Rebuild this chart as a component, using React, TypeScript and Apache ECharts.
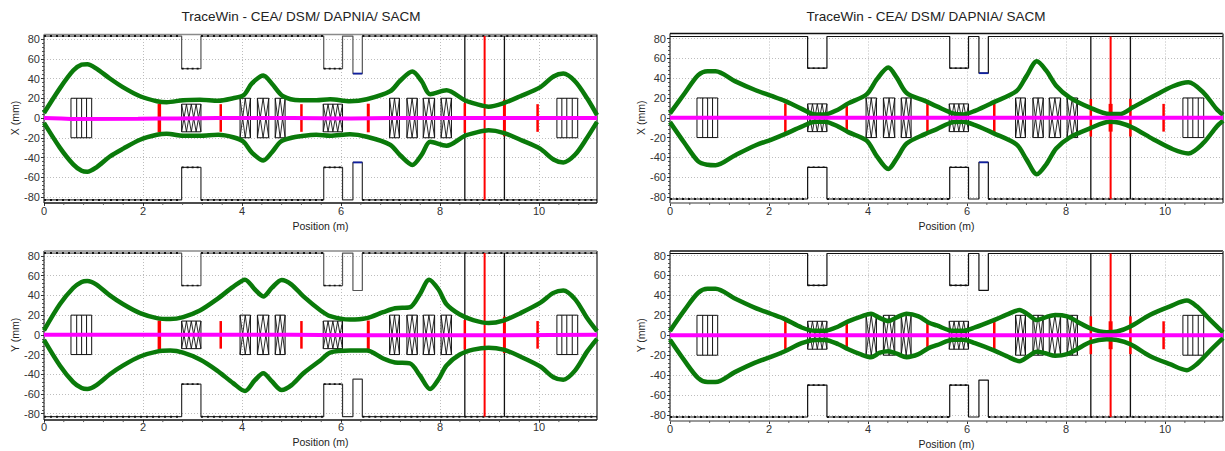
import React, { useEffect, useRef } from "react";
import * as echarts from "echarts";

type P = [number, number];
const XMAX = 11.17;
const titleText = "TraceWin - CEA/ DSM/ DAPNIA/ SACM";
const xAxisName = "Position (m)";

// Beam envelopes (position m, size mm)
const xLeftUpper: P[] = [[0,5],[.32,30],[.59,48],[.76,54],[.875,54.5],[1.06,50],[1.33,40],[1.6,31],[1.94,22],[2.28,17],[2.48,16],[2.81,18],[3.15,18.5],[3.52,17.5],[3.82,20],[4.03,23],[4.2,35],[4.43,43],[4.6,35],[4.83,22],[5.17,18],[5.5,18],[5.78,19],[6.18,17],[6.52,19],[6.99,27],[7.2,38],[7.44,47],[7.63,37],[7.8,24],[8.13,28],[8.5,18],[8.74,14],[8.98,11.5],[9.28,15],[9.62,22],[10.02,31],[10.29,42],[10.49,45],[10.73,37],[10.97,20],[XMAX,3]];
const xLeftLower: P[] = [[0,-5],[.32,-30],[.59,-47],[.76,-53.5],[.875,-54.5],[1.06,-50],[1.33,-39],[1.6,-31],[1.94,-22],[2.28,-17],[2.48,-16],[2.81,-18],[3.15,-18],[3.52,-17],[3.82,-19.5],[4.03,-24],[4.2,-35],[4.43,-43],[4.6,-35],[4.78,-24],[5,-20],[5.17,-18.5],[5.5,-17],[5.78,-18],[6.18,-16.5],[6.52,-19],[6.99,-27],[7.2,-38],[7.44,-47.5],[7.63,-37],[7.8,-24],[8.13,-28],[8.5,-18],[8.74,-14.5],[8.98,-12.5],[9.28,-15],[9.62,-22],[10.02,-31],[10.29,-42],[10.49,-45],[10.73,-37],[10.97,-20],[XMAX,-4]];
const yLeftUpper: P[] = [[0,4.5],[.32,31],[.59,47.5],[.76,53.7],[.875,54.7],[1.06,51],[1.33,40],[1.6,31],[1.94,22],[2.28,17],[2.55,16],[2.81,18],[3.15,24.7],[3.49,36],[3.82,48.6],[4.06,56],[4.26,46],[4.43,39],[4.6,47.6],[4.8,55.7],[5,51],[5.24,39],[5.58,25],[5.78,19],[6.18,15.5],[6.52,17],[6.85,23],[7.09,27],[7.39,28],[7.59,41],[7.78,56],[7.97,46],[8.13,31],[8.4,20.6],[8.67,15],[8.98,12],[9.28,14.5],[9.62,22],[10.02,32.4],[10.29,42.6],[10.49,45],[10.73,36],[10.97,17],[XMAX,3.7]];
const yLeftLower: P[] = [[0,-5],[.32,-31],[.59,-48],[.76,-54],[.875,-55],[1.06,-51],[1.33,-40],[1.6,-31],[1.94,-22],[2.28,-17],[2.55,-16],[2.81,-18],[3.15,-25],[3.49,-36],[3.82,-49],[4.06,-57],[4.26,-46],[4.43,-39],[4.6,-47],[4.8,-56],[5,-51],[5.24,-39],[5.58,-26],[5.78,-18],[6.18,-16],[6.52,-16],[6.85,-24],[7.09,-28],[7.39,-29],[7.59,-41],[7.8,-55],[7.97,-45],[8.13,-31],[8.4,-20],[8.67,-15],[8.98,-13],[9.28,-15],[9.62,-22],[10.02,-32],[10.29,-43],[10.49,-45.5],[10.73,-36],[10.97,-17],[XMAX,-4]];
const xRightUpper: P[] = [[0,4.4],[.3,25],[.57,43],[.76,47],[.92,47],[1.31,37],[1.72,28],[2.05,22],[2.32,17],[2.66,9],[2.93,3.4],[3.13,3.4],[3.4,8.4],[3.6,14.5],[3.97,23.6],[4.18,39],[4.41,50.7],[4.58,40.5],[4.78,25],[5.15,17],[5.39,11.5],[5.72,4.4],[5.93,3.4],[6.16,7],[6.53,15.5],[7,27],[7.2,42],[7.41,57],[7.6,47.6],[7.8,32.4],[8.07,20.6],[8.47,10.5],[8.88,3.7],[9.08,3.7],[9.35,10.5],[9.76,21.6],[10.16,31.8],[10.47,35.8],[10.77,25.7],[11.04,8.8],[XMAX,3]];
const xRightLower: P[] = [[0,-4.4],[.3,-26],[.57,-44],[.76,-47.5],[.92,-48],[1.31,-38],[1.72,-28],[2.05,-22],[2.32,-16.5],[2.66,-9],[2.93,-4],[3.13,-4],[3.4,-9],[3.6,-14.5],[3.97,-23],[4.18,-39],[4.41,-51.7],[4.58,-41],[4.78,-26],[5.15,-16.5],[5.39,-11.5],[5.72,-4.4],[5.93,-4],[6.16,-7.5],[6.53,-15.5],[7,-27],[7.2,-42],[7.41,-57],[7.6,-47],[7.8,-31],[8.07,-20],[8.47,-11],[8.88,-4],[9.08,-5],[9.35,-10],[9.76,-21.6],[10.16,-31.8],[10.47,-36],[10.77,-25.7],[11.04,-9],[XMAX,-3]];
const yRightUpper: P[] = [[0,4.4],[.3,25.7],[.57,42.6],[.76,46.6],[.92,46.6],[1.31,36.8],[1.72,27.4],[2.05,21.3],[2.32,16.2],[2.66,7.8],[2.93,4.4],[3.13,4.4],[3.4,8.8],[3.6,13.9],[3.87,19],[4.06,21.6],[4.24,17.2],[4.41,14.2],[4.58,18],[4.78,21.6],[5.02,19],[5.22,12.8],[5.39,9.8],[5.72,4.4],[5.93,4.4],[6.16,7.8],[6.53,14.9],[6.8,20.6],[7.06,25.3],[7.24,20.6],[7.41,15.2],[7.58,18],[7.78,20.3],[8.02,19],[8.22,13.9],[8.49,7],[8.82,3],[9.03,3.7],[9.3,8.8],[9.7,20.6],[10.1,29],[10.44,34.8],[10.64,29],[10.91,15.5],[XMAX,3]];
const yRightLower: P[] = [[0,-4.6],[.3,-26],[.57,-43],[.76,-47],[.92,-47],[1.31,-37],[1.72,-27.5],[2.05,-21.5],[2.32,-16],[2.66,-8],[2.93,-4.7],[3.13,-4.7],[3.4,-9],[3.6,-14],[3.87,-19.5],[4.06,-22],[4.24,-17.5],[4.41,-16],[4.58,-18.5],[4.78,-22],[5.02,-19],[5.22,-13],[5.39,-10],[5.72,-4.5],[5.93,-4.5],[6.16,-8],[6.53,-15],[6.8,-21],[7.06,-26],[7.24,-21],[7.41,-16.5],[7.58,-18],[7.78,-20.6],[8.02,-19],[8.22,-14],[8.49,-7],[8.82,-4],[9.03,-4.7],[9.3,-9],[9.7,-21],[10.1,-29],[10.44,-35],[10.64,-29],[10.91,-15.5],[XMAX,-3]];

// Beam centre (mm)
const centreX: P[] = [[0,0],[.35,-.4],[.55,-1],[1.9,-.7],[2.3,-.5],[2.7,-.5],[3.5,0],[5,0],[6.2,-.4],[7,0],[8.9,0],[XMAX,0]];
const centreY: P[] = [[0,0],[3.5,0],[5,0],[6.2,-.4],[8.9,-.5],[XMAX,0]];

// Machine elements: start, end, half height (mm), teeth
const plainMagnets: [number, number, number][] = [[.545,.963,20],[10.36,10.78,20]];
const plainDividers: number[] = [.66,.76,.86,10.46,10.56,10.67];
const zigzagMagnets: [number, number, number, number][] = [
  [2.78,3.17,14,4],[3.96,4.17,20,2],[4.31,4.54,20,2],[4.67,4.87,20,2],[5.64,6.03,14,4],
  [6.98,7.18,20,2],[7.33,7.54,20,2],[7.66,7.89,20,2],[8.02,8.23,20,2],
];
const redMarkers: [number, number, number][] = [[2.33,14.5,3.5],[3.57,14,2.5],[5.2,14,2.5],[6.55,14.5,3],[8.5,15,2.5],[9.3,18.5,3],[9.97,14,2.5]];
const redMarkersRight: [number, number, number][] = [[2.33,14.5,2.5],[3.57,14,2.5],[5.2,14,2.5],[6.55,14.5,2.5],[8.5,19,2.5],[8.9,14,4],[9.3,19,2.5],[9.97,14,2.5]];
const diagLines: number[] = [8.5,9.3];
const redLine = 8.9;
const apertureSteps: [number, number, number][] = [[2.78,3.17,50],[5.65,6.03,50],[6.24,6.43,45]];
const xMinor: number[] = [.4,.8,1.2,1.6,2.4,2.8,3.2,3.6,4.4,4.8,5.2,5.6,6.4,6.8,7.2,7.6,8.4,8.8,9.2,9.6,10.4,10.8];

const BREAK: P = [NaN, NaN];
const seg = (pts: P[][]): P[] => pts.flatMap((s, i) => (i ? [BREAK, ...s] : s));

function panelSeries(i: number, cfg: any): any[] {
  const base = { type: "line", xAxisIndex: i, yAxisIndex: i, showSymbol: false, symbol: "none", clip: false, silent: true, connectNulls: false };
  const line = (data: P[], color: string, width: number, extra: any = {}) => ({ ...base, data, lineStyle: { color, width, ...extra }, itemStyle: { color } });
  const { top, bot, aptU, aptL, upper, lower, centre, red, blue, left } = cfg;
  const out: any[] = [];
  // frame
  out.push(line([[0, bot], [0, top]], "#333", 1.2));
  out.push(line([[0, top], [XMAX, top]], left ? "#8a8a8a" : "#111", 1.6));
  out.push(line([[XMAX, top], [XMAX, bot]], "#777", 2));
  out.push(line([[0, bot], [XMAX, bot]], left ? "#111" : "#777", 1.5));
  out.push(line(seg(xMinor.map((x) => [[x, bot], [x, bot - 2]] as P[])), "#555", 1));
  // aperture
  const outline = (y0: number, sign: number): P[] => {
    const pts: P[] = [[0, y0]];
    apertureSteps.forEach(([a, b, h]) => { pts.push([a, y0], [a, sign * h], [b, sign * h], [b, y0]); });
    pts.push([XMAX, y0]);
    return pts;
  };
  out.push(line(outline(aptU, 1), left ? "#555" : "#111", 1.2));
  out.push(line(outline(aptL, -1), left ? "#333" : "#111", 1.2));
  const flatU: P[] = [[0,aptU],[2.78,aptU],BREAK,[3.17,aptU],[5.65,aptU],BREAK,[6.43,aptU],[XMAX,aptU]];
  const flatL: P[] = [[0,aptL],[2.78,aptL],BREAK,[3.17,aptL],[5.65,aptL],BREAK,[6.43,aptL],[XMAX,aptL]];
  const dots = { type: [2, 4] };
  if (left) out.push(line(flatU, "#111", 2, dots));
  out.push(line(flatL, "#111", 2, dots));
  const caps = (h: number): P[] => seg(apertureSteps.slice(0, 2).map(([a, b]) => [[a, h], [b, h]] as P[]));
  out.push(line(caps(50), "#111", 1.6, { type: [2, 3] }));
  out.push(line(caps(-50), "#111", 1.6, { type: [2, 3] }));
  if (blue) {
    out.push(line([[6.24, 45], [6.43, 45]], "#1020a0", 1.8));
    out.push(line([[6.24, -45], [6.43, -45]], "#1020a0", 1.8));
  }
  // magnets
  const box = (a: number, b: number, h: number): P[] => [[a, -h], [a, h], [b, h], [b, -h], [a, -h]];
  out.push(line(seg(plainMagnets.map(([a, b, h]) => box(a, b, h))), "#111", 1));
  out.push(line(seg(plainDividers.map((x) => [[x, -20], [x, 20]] as P[])), "#111", 1));
  out.push(line(seg(zigzagMagnets.map(([a, b, h]) => box(a, b, h))), "#111", 1));
  const zig = (a: number, b: number, outer: number, n: number): P[] => {
    const pts: P[] = [];
    for (let k = 0; k <= n * 2; k++) pts.push([a + ((b - a) * k) / (n * 2), k % 2 ? 0 : outer]);
    return pts;
  };
  out.push(line(seg(zigzagMagnets.flatMap(([a, b, h, n]) => [zig(a, b, h, n), zig(a, b, -h, n)])), "#111", 0.9));
  // diagnostics
  out.push(line(seg(diagLines.map((x) => [[x, aptL], [x, aptU]] as P[])), "#111", 1.3));
  out.push(line([[redLine, aptL], [redLine, aptU]], "#ff0000", 2));
  red.forEach(([x, h, w]: number[]) => out.push(line([[x, -h], [x, h]], "#ff0000", w)));
  // envelopes
  out.push({ ...line(upper, "#0a7a0a", 4.5), smooth: 0.3 });
  out.push({ ...line(lower, "#0a7a0a", 4.5), smooth: 0.3 });
  out.push(line(centre, "#ff00ff", 4));
  return out;
}

const panels = [
  { gridLeft: 44, gridTop: 39, gridH: 158, w: 553, top: 84.5, bot: -86, aptU: 83, aptL: -83, upper: xLeftUpper, lower: xLeftLower, centre: centreX, red: redMarkers, blue: true, left: true, name: "X (mm)" },
  { gridLeft: 44, gridTop: 256, gridH: 157.7, w: 553, top: 85, bot: -86.5, aptU: 83, aptL: -83, upper: yLeftUpper, lower: yLeftLower, centre: centreY, red: redMarkers, blue: false, left: true, name: "Y (mm)" },
  { gridLeft: 670, gridTop: 38.5, gridH: 158.5, w: 553, top: 85, bot: -86, aptU: 82, aptL: -82, upper: xRightUpper, lower: xRightLower, centre: [[0,0],[XMAX,0]], red: redMarkersRight, blue: true, left: false, name: "X (mm)" },
  { gridLeft: 670, gridTop: 255.5, gridH: 159.5, w: 553, top: 84.5, bot: -86, aptU: 82, aptL: -82, upper: yRightUpper, lower: yRightLower, centre: [[0,0],[XMAX,0]], red: redMarkersRight, blue: false, left: false, name: "Y (mm)" },
];

const FONT = "Liberation Sans";
const TICK = "#333";
const split = { show: true, lineStyle: { color: "#bdbdbd", type: [1, 2], width: 1 } };

export default function App() {
  const ref = useRef<HTMLDivElement>(null);
  useEffect(() => {
    const chart = echarts.init(ref.current!, undefined, { renderer: "svg" });
    chart.setOption({
      animation: false,
      backgroundColor: "#fff",
      title: [296, 921].map((x) => ({
        text: titleText, left: x, top: 4, textAlign: "center",
        textStyle: { fontFamily: FONT, fontSize: 13.5, fontWeight: "normal", color: "#222" },
      })),
      grid: panels.map((p) => ({ left: p.gridLeft, top: p.gridTop, width: p.w, height: p.gridH })),
      xAxis: panels.map((p, i) => ({
        type: "value", gridIndex: i, min: 0, max: XMAX, interval: 2, position: "bottom",
        offset: Math.round(((-p.bot - 80) * p.gridH) / 160),
        name: xAxisName, nameLocation: "middle", nameGap: 17,
        nameTextStyle: { fontFamily: FONT, fontSize: 10.5, color: "#222" },
        axisLine: { show: false, onZero: false },
        axisTick: { show: true, length: 3, lineStyle: { color: TICK } },
        axisLabel: { fontFamily: FONT, fontSize: 11, color: "#333", margin: 2, showMaxLabel: false },
        splitLine: split,
      })),
      yAxis: panels.map((p, i) => ({
        type: "value", gridIndex: i, min: -80, max: 80, interval: 20,
        name: p.name, nameLocation: "middle", nameGap: 24,
        nameTextStyle: { fontFamily: FONT, fontSize: 10.5, color: "#222" },
        axisLine: { show: false, onZero: false },
        axisTick: { show: true, length: 3, lineStyle: { color: TICK } },
        minorTick: { show: true, splitNumber: 5, length: 2, lineStyle: { color: "#555" } },
        axisLabel: { fontFamily: FONT, fontSize: 11, color: "#333", margin: 4 },
        splitLine: split,
      })),
      series: panels.flatMap((p, i) => panelSeries(i, p)),
    });
    return () => chart.dispose();
  }, []);
  return <div ref={ref} style={{ position: "fixed", left: 0, top: 0, width: 1225, height: 451 }} />;
}
